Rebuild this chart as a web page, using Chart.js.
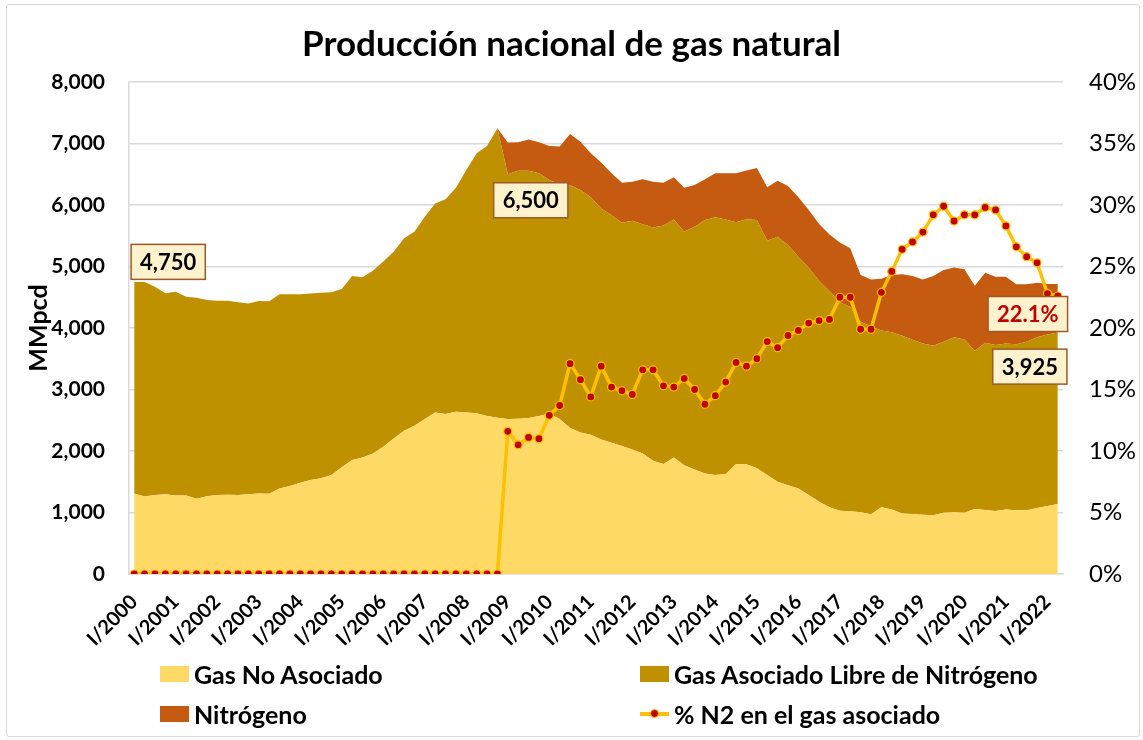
<!DOCTYPE html>
<html>
<head>
<meta charset="utf-8">
<script src="https://cdn.jsdelivr.net/npm/chart.js@4.4.1/dist/chart.umd.min.js"></script>
<style>
html,body{margin:0;padding:0;background:#fff;}
#wrap{position:relative;width:1143px;height:740px;font-family:Lato,'Open Sans',sans-serif;overflow:hidden;}
#frame{position:absolute;left:6px;top:4px;width:1132px;height:731px;border:1px solid #d9d9d9;border-radius:3px;}
#title{position:absolute;left:0;top:19px;width:1143px;text-align:center;font-weight:700;font-size:35px;line-height:46px;color:#000;}
canvas{position:absolute;left:0;top:0;}
.lg{position:absolute;font-weight:700;font-size:25px;line-height:30px;color:#000;white-space:nowrap;}
.sw{position:absolute;width:29px;height:16px;}
.ln{position:absolute;width:29px;height:4px;background:#FFC000;}
.dot{position:absolute;width:7px;height:7px;border-radius:50%;background:#C00000;border:1px solid #FFC000;}
</style>
</head>
<body>
<div id="wrap">
  <div id="frame"></div>
  <canvas id="c" width="1143" height="740" style="width:1143px;height:740px"></canvas>
  <div id="title">Producción nacional de gas natural</div>
  <div id="legend"></div>
</div>
<script>
// ---- data ----
const years = [2000,2001,2002,2003,2004,2005,2006,2007,2008,2009,2010,2011,2012,2013,2014,2015,2016,2017,2018,2019,2020,2021,2022];
const quarterNames = ['I','II','III','IV'];
const lastQuarterCount = 2; // 2022: I, II

const seriesNames = ['Gas No Asociado','Gas Asociado Libre de Nitrógeno','Nitrógeno','% N2 en el gas asociado'];

// MMpcd, quarterly I/2000 .. II/2022
const gasNoAsociado = [
1310,1260,1285,1295,1275,1275,1225,1265,1285,1290,1285,1295,1310,1305,1390,1430,1485,1530,1555,1610,
1735,1855,1895,1960,2070,2205,2330,2410,2520,2625,2600,2640,2625,2615,2570,2540,2520,2525,2535,2570,
2610,2520,2375,2300,2265,2185,2135,2080,2025,1960,1840,1790,1895,1770,1700,1635,1610,1625,1790,1785,
1720,1610,1500,1445,1390,1285,1175,1085,1030,1020,1005,970,1085,1050,985,975,965,955,995,1005,
995,1055,1040,1025,1050,1035,1035,1075,1105,1140];

const gasAsociadoLibre = [
3440,3490,3385,3270,3315,3235,3265,3190,3160,3155,3135,3105,3130,3130,3160,3120,3065,3030,3020,2970,
2900,2990,2930,2970,3010,3035,3130,3155,3290,3400,3495,3640,3945,4225,4390,4710,3980,4030,4020,3945,
3795,3820,3945,3945,3860,3760,3700,3630,3720,3725,3795,3875,3870,3795,3945,4120,4190,4140,3930,3985,
4035,3810,3985,3905,3770,3695,3595,3515,3390,3320,3095,3060,2875,2880,2890,2835,2785,2755,2780,2845,
2820,2575,2720,2700,2700,2700,2740,2775,2790,2785];

const nitrogeno = [
0,0,0,0,0,0,0,0,0,0,0,0,0,0,0,0,0,0,0,0,
0,0,0,0,0,0,0,0,0,0,0,0,0,0,0,0,515,465,510,505,
555,610,835,785,715,745,680,650,635,735,745,695,685,715,680,665,715,750,795,790,
845,870,910,960,965,940,920,920,970,955,760,760,840,930,1000,1035,1040,1135,1170,1135,
1140,1055,1140,1110,1085,975,935,885,820,790];

// % of N2 in associated gas
const pctN2 = [
0,0,0,0,0,0,0,0,0,0,0,0,0,0,0,0,0,0,0,0,
0,0,0,0,0,0,0,0,0,0,0,0,0,0,0,0,11.6,10.5,11.1,11.0,
12.9,13.7,17.1,15.8,14.4,16.9,15.2,14.9,14.6,16.6,16.6,15.3,15.2,15.9,15.0,13.8,14.5,15.6,17.2,16.9,
17.5,18.9,18.4,19.4,19.8,20.4,20.6,20.7,22.5,22.5,19.9,19.9,22.9,24.6,26.4,27.0,27.8,29.2,29.9,28.7,
29.2,29.2,29.8,29.6,28.3,26.6,25.8,25.3,22.8,22.6];

const leftTicks = [0,1000,2000,3000,4000,5000,6000,7000,8000];
const rightTicks = [0,5,10,15,20,25,30,35,40];

// ---- build categories ----
const quarterLabels = [];
years.forEach((y, yi) => {
  const n = (yi === years.length - 1) ? lastQuarterCount : 4;
  for (let q = 0; q < n; q++) quarterLabels.push(quarterNames[q] + '/' + y);
});

const fmt = v => Math.round(v).toLocaleString('en-US');
const lastI = quarterLabels.length - 1;

// boxed data labels (anchored to library element positions)
const annotations = [
  {dataset:1, index:0,  text: fmt(gasNoAsociado[0] + gasAsociadoLibre[0]), color:'#000', dx:34, dy:-20},
  {dataset:1, index:36, text: fmt(gasNoAsociado[36] + gasAsociadoLibre[36]), color:'#000', dx:23, dy:26},
  {dataset:3, index:lastI, text: (100*nitrogeno[lastI]/(nitrogeno[lastI]+gasAsociadoLibre[lastI])).toFixed(1) + '%', color:'#C00000', dx:-30, dy:18},
  {dataset:1, index:lastI, text: fmt(gasNoAsociado[lastI] + gasAsociadoLibre[lastI]), color:'#000', dx:-28, dy:34}
];

const colors = ['#FFD966','#BF9000','#C55A11','#FFC000'];

// ---- legend (HTML) ----
const legend = document.getElementById('legend');
const legPos = [[160,673.5],[640,673.5],[160,713.5],[640,713.5]];
seriesNames.forEach((name, k) => {
  const [lx, ly] = legPos[k];
  if (k < 3) {
    const s = document.createElement('div');
    s.className = 'sw'; s.style.left = lx + 'px'; s.style.top = (ly - 8) + 'px'; s.style.background = colors[k];
    legend.appendChild(s);
  } else {
    const l = document.createElement('div');
    l.className = 'ln'; l.style.left = lx + 'px'; l.style.top = (ly - 2) + 'px';
    legend.appendChild(l);
    const d = document.createElement('div');
    d.className = 'dot'; d.style.left = (lx + 10) + 'px'; d.style.top = (ly - 4.5) + 'px';
    legend.appendChild(d);
  }
  const t = document.createElement('div');
  t.className = 'lg'; t.textContent = name; t.style.left = (lx + 34) + 'px'; t.style.top = (ly - 15) + 'px';
  legend.appendChild(t);
});

const labelPlugin = {
  id: 'boxLabels',
  afterDatasetsDraw(chart) {
    const ctx = chart.ctx;
    annotations.forEach(a => {
      const el = chart.getDatasetMeta(a.dataset).data[a.index];
      const cx = el.x + a.dx, cy = el.y + a.dy;
      ctx.save();
      ctx.font = 'bold 22px Lato, "Open Sans", sans-serif';
      const w = ctx.measureText(a.text).width + 18, h = 35;
      ctx.fillStyle = '#FFF2CC';
      ctx.fillRect(cx - w/2, cy - h/2, w, h);
      ctx.strokeStyle = '#9C5A2A'; ctx.lineWidth = 1.5;
      ctx.strokeRect(cx - w/2, cy - h/2, w, h);
      ctx.fillStyle = a.color; ctx.textAlign = 'center'; ctx.textBaseline = 'middle';
      ctx.fillText(a.text, cx, cy + 1);
      ctx.restore();
    });
  }
};

const FONT = 'Lato, "Open Sans", sans-serif';

new Chart(document.getElementById('c').getContext('2d'), {
  type: 'line',
  data: {
    labels: quarterLabels,
    datasets: [
      {label: seriesNames[0], data: gasNoAsociado, backgroundColor: colors[0], borderWidth: 0, pointRadius: 0, fill: 'origin', yAxisID: 'y', order: 1, tension: 0},
      {label: seriesNames[1], data: gasAsociadoLibre, backgroundColor: colors[1], borderWidth: 0, pointRadius: 0, fill: '-1', yAxisID: 'y', order: 1, tension: 0},
      {label: seriesNames[2], data: nitrogeno, backgroundColor: colors[2], borderWidth: 0, pointRadius: 0, fill: '-1', yAxisID: 'y', order: 1, tension: 0},
      {label: seriesNames[3], data: pctN2, yAxisID: 'y1', borderColor: colors[3], borderWidth: 3.5, fill: false, tension: 0,
       pointRadius: 4, pointBackgroundColor: '#C00000', pointBorderColor: '#FFC000', pointBorderWidth: 1.2, order: 0}
    ]
  },
  options: {
    responsive: false,
    animation: false,
    events: [],
    layout: {padding: {left: 10, right: 5, top: 82, bottom: 86}},
    plugins: {legend: {display: false}, tooltip: {enabled: false}, title: {display: false}},
    scales: {
      x: {
        type: 'category', offset: true,
        grid: {display: false},
        border: {display: true, color: '#D9D9D9', width: 1.5},
        ticks: {autoSkip: false, maxRotation: 45, minRotation: 45, padding: 8, color: '#000',
                font: {family: FONT, weight: 'bold', size: 20},
                callback: (v, i) => (i % 4 === 0 ? quarterLabels[i] : '')},
        afterFit: s => { s.height = 80; }
      },
      y: {
        stacked: true, min: 0, max: 8000,
        afterBuildTicks: s => { s.ticks = leftTicks.map(v => ({value: v})); },
        ticks: {padding: 24, color: '#000', font: {family: FONT, weight: 'bold', size: 21}, callback: v => fmt(v)},
        grid: {color: '#D9D9D9', lineWidth: 1.5, drawTicks: false},
        border: {display: true, color: '#D9D9D9', width: 1.5},
        title: {display: true, text: 'MMpcd', color: '#000', font: {family: FONT, weight: 'bold', size: 25}, padding: {top: 14, bottom: 0}},
        afterFit: s => { s.width = 119; }
      },
      y1: {
        position: 'right', min: 0, max: 40,
        afterBuildTicks: s => { s.ticks = rightTicks.map(v => ({value: v})); },
        ticks: {padding: 26, color: '#000', font: {family: FONT, size: 24}, callback: v => v + '%'},
        grid: {display: false, drawTicks: false},
        border: {display: false},
        afterFit: s => { s.width = 75; }
      }
    }
  },
  plugins: [labelPlugin]
});
</script>
</body>
</html>
